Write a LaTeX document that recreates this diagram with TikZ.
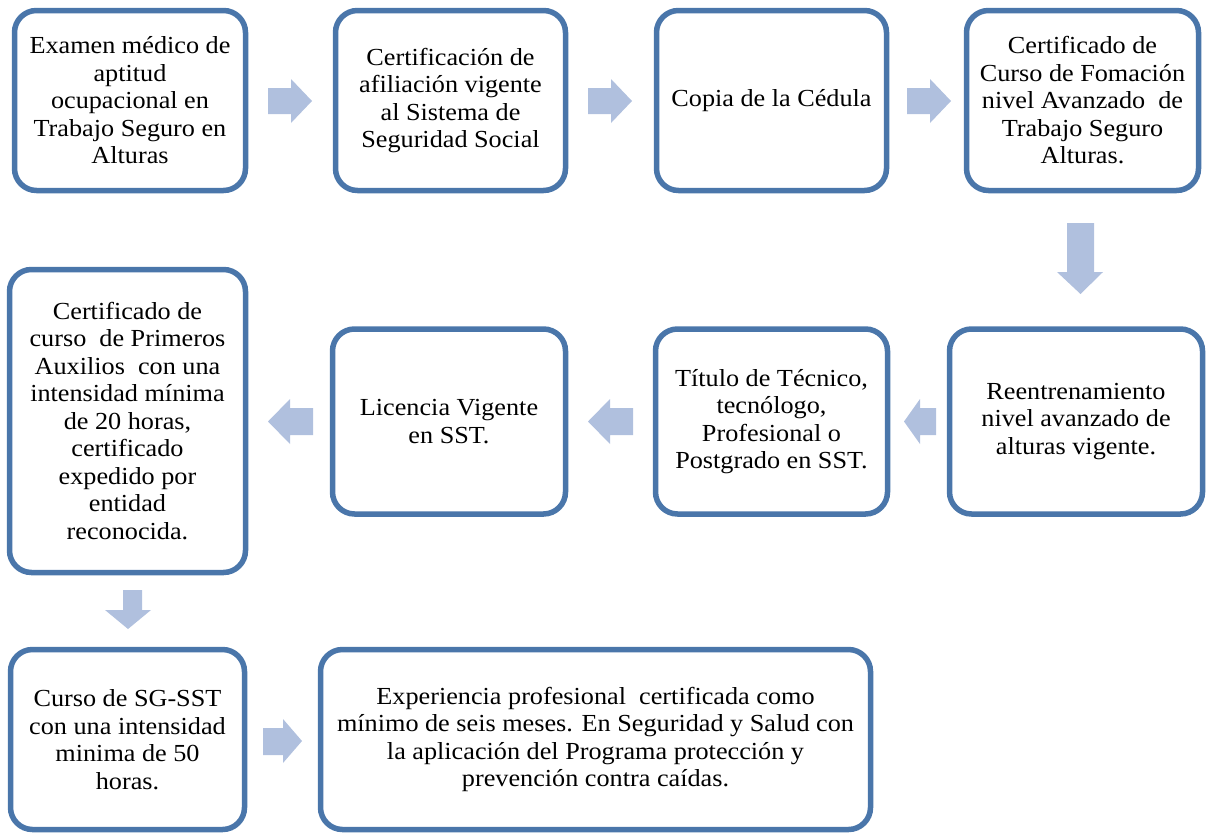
\documentclass[tikz,border=0pt]{standalone}
\usepackage{fontspec}
\setmainfont{Liberation Serif}[FakeStretch=1.07]
\begin{document}
\begin{tikzpicture}[x=1pt,y=-1pt,
  box/.style={draw=boxblue, line width=5.5pt, rounded corners=22pt, fill=white,
    align=center, inner sep=0pt, font=\fontsize{24.5}{27.5}\selectfont},
  blk/.style={fill=arrowfill}]
\definecolor{boxblue}{RGB}{74,118,170}
\definecolor{arrowfill}{RGB}{176,192,222}
\useasboundingbox (0,0) rectangle (1206,833);
% row 1
\node[box, minimum width=231pt, minimum height=180pt] (b1) at (130,100.5)
  {Examen médico de\\aptitud\\ocupacional en\\Trabajo Seguro en\\Alturas};
\node[box, minimum width=230pt, minimum height=180pt] (b2) at (450.5,100.5)
  {Certificación de\\afiliación vigente\\al Sistema de\\Seguridad Social};
\node[box, minimum width=230pt, minimum height=180pt] (b3) at (771.5,100.5)
  {Copia de la Cédula};
\node[box, minimum width=232pt, minimum height=180pt] (b4) at (1082.5,100.5)
  {Certificado de\\Curso de Fomación\\nivel Avanzado\ \ de\\Trabajo Seguro\\Alturas.};
% row 2
\node[box, minimum width=236pt, minimum height=303pt] (l1) at (127.5,421)
  {Certificado de\\curso\ \ de Primeros\\Auxilios\ \ con una\\intensidad mínima\\de 20 horas,\\certificado\\expedido por\\entidad\\reconocida.};
\node[box, minimum width=233pt, minimum height=185pt] (lic) at (449,421.5)
  {Licencia Vigente\\en SST.};
\node[box, minimum width=232pt, minimum height=185pt] (tit) at (771.5,421.5)
  {Título de Técnico,\\tecnólogo,\\Profesional o\\Postgrado en SST.};
\node[box, minimum width=253pt, minimum height=185pt] (reen) at (1076,421.5)
  {Reentrenamiento\\nivel avanzado de\\alturas vigente.};
% row 3
\node[box, minimum width=234pt, minimum height=180pt] (cur) at (127.5,739.5)
  {Curso de SG-SST\\con una intensidad\\minima de 50\\horas.};
\node[box, minimum width=550pt, minimum height=180pt] (exp) at (595.5,739.5)
  {Experiencia profesional\ \ certificada como\\mínimo de seis meses. En Seguridad y Salud con\\la aplicación del Programa protección y\\prevención contra caídas.};
% block arrows
\fill[blk] (268,88)--(291,88)--(291,79)--(312,101)--(291,123)--(291,114)--(268,114)--cycle;
\fill[blk] (588,88)--(611,88)--(611,79)--(632,101)--(611,123)--(611,114)--(588,114)--cycle;
\fill[blk] (907,88)--(930,88)--(930,79)--(951,101)--(930,123)--(930,114)--(907,114)--cycle;
\fill[blk] (1067,223)--(1094,223)--(1094,272)--(1103,272)--(1080.5,294)--(1057,272)--(1067,272)--cycle;
\fill[blk] (936,408)--(920,408)--(920,399)--(904,421.5)--(920,444)--(920,435)--(936,435)--cycle;
\fill[blk] (633,408)--(610,408)--(610,399)--(588,421.5)--(610,444)--(610,435)--(633,435)--cycle;
\fill[blk] (313,408)--(290,408)--(290,399)--(268,421.5)--(290,444)--(290,435)--(313,435)--cycle;
\fill[blk] (123,590)--(142,590)--(142,610)--(151,610)--(128,629)--(105,610)--(123,610)--cycle;
\fill[blk] (263,728)--(283,728)--(283,719)--(302,741)--(283,763)--(283,755)--(263,755)--cycle;
\end{tikzpicture}
\end{document}
